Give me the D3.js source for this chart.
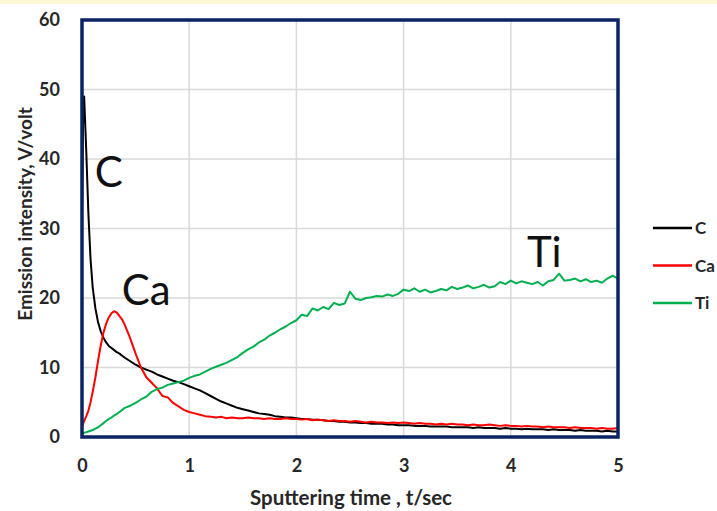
<!DOCTYPE html>
<html>
<head>
<meta charset="utf-8">
<script src="https://cdn.jsdelivr.net/npm/d3@7"></script>
<style>
  body { margin: 0; background: #fff; }
  svg { display: block; font-family: Lato, "Open Sans", sans-serif; }
</style>
</head>
<body>
<div id="chart"></div>
<script>
// Sampling times (sec)
var times = [0, 0.01, 0.02, 0.04, 0.06, 0.08, 0.1, 0.125, 0.15, 0.175, 0.2, 0.225, 0.25, 0.275, 0.3, 0.325, 0.35, 0.375, 0.4,
  0.45, 0.5, 0.55, 0.6, 0.65, 0.7, 0.75, 0.8, 0.85, 0.9, 0.95, 1.0,
  1.05, 1.1, 1.15, 1.2, 1.25, 1.3, 1.35, 1.4, 1.45, 1.5,
  1.55, 1.6, 1.65, 1.7, 1.75, 1.8, 1.85, 1.9, 1.95, 2.0,
  2.05, 2.1, 2.15, 2.2, 2.25, 2.3, 2.35, 2.4, 2.45, 2.5,
  2.55, 2.6, 2.65, 2.7, 2.75, 2.8, 2.85, 2.9, 2.95, 3.0,
  3.05, 3.1, 3.15, 3.2, 3.25, 3.3, 3.35, 3.4, 3.45, 3.5,
  3.55, 3.6, 3.65, 3.7, 3.75, 3.8, 3.85, 3.9, 3.95, 4.0,
  4.05, 4.1, 4.15, 4.2, 4.25, 4.3, 4.35, 4.4, 4.45, 4.5,
  4.55, 4.6, 4.65, 4.7, 4.75, 4.8, 4.85, 4.9, 4.95, 5.0];

var cValues = [32, 45, 49, 41, 32, 25.5, 21.5, 18.5, 16.5, 15.2, 14.3, 13.6, 13.1, 12.8, 12.5, 12.2, 12.0, 11.7, 11.4,
  10.9, 10.4, 10.0, 9.7, 9.4, 9.0, 8.7, 8.4, 8.1, 7.9, 7.6, 7.3,
  7.0, 6.7, 6.3, 5.9, 5.5, 5.1, 4.8, 4.5, 4.2, 4.0,
  3.8, 3.6, 3.4, 3.3, 3.2, 3.0, 2.9, 2.8, 2.8, 2.7,
  2.6, 2.6, 2.5, 2.5, 2.4, 2.3, 2.3, 2.2, 2.2, 2.1,
  2.1, 2.0, 2.0, 1.9, 1.9, 1.9, 1.8, 1.8, 1.7, 1.7,
  1.7, 1.6, 1.6, 1.6, 1.5, 1.5, 1.5, 1.5, 1.4, 1.4,
  1.4, 1.4, 1.3, 1.4, 1.3, 1.3, 1.3, 1.2, 1.3, 1.2,
  1.2, 1.1, 1.2, 1.1, 1.1, 1.1, 1.0, 1.1, 1.0, 1.0,
  1.0, 0.9, 1.0, 0.9, 0.9, 0.9, 0.8, 0.9, 0.8, 0.8];

var caValues = [1.5, 1.9, 2.3, 3.0, 3.8, 5.0, 6.5, 8.6, 11.0, 13.2, 15.0, 16.3, 17.2, 17.8, 18.1, 17.9, 17.4, 16.9, 16.1,
  14.2, 12.0, 10.0, 8.6, 7.8, 7.0, 5.9, 5.7, 4.9, 4.4, 3.9, 3.6,
  3.4, 3.2, 3.0, 2.9, 2.8, 2.9, 2.7, 2.8, 2.7, 2.7,
  2.8, 2.7, 2.7, 2.6, 2.7, 2.6, 2.6, 2.7, 2.6, 2.6,
  2.5, 2.6, 2.4, 2.5, 2.4, 2.3, 2.4, 2.3, 2.3, 2.2,
  2.3, 2.2, 2.1, 2.2, 2.1, 2.1, 2.0, 2.1, 2.0, 2.1,
  2.0, 1.9, 2.0, 1.9, 1.9, 1.8, 1.9, 1.8, 1.9, 1.8,
  1.8, 1.7, 1.8, 1.7, 1.7, 1.8, 1.7, 1.6, 1.7, 1.6,
  1.6, 1.5, 1.6, 1.5, 1.5, 1.4, 1.5, 1.4, 1.4, 1.4,
  1.3, 1.4, 1.3, 1.3, 1.3, 1.2, 1.3, 1.2, 1.2, 1.3];

var tiValues = [0.5, 0.5, 0.6, 0.7, 0.8, 0.9, 1.0, 1.2, 1.4, 1.7, 2.0, 2.3, 2.6, 2.8, 3.1, 3.3, 3.6, 3.9, 4.2,
  4.5, 4.9, 5.4, 5.8, 6.5, 6.9, 7.1, 7.5, 7.7, 7.9, 8.1, 8.5,
  8.8, 9.0, 9.4, 9.8, 10.1, 10.4, 10.7, 11.1, 11.5, 12.1,
  12.6, 13.0, 13.6, 14.0, 14.6, 15.0, 15.5, 15.9, 16.4, 16.8,
  17.6, 17.4, 18.5, 18.2, 18.7, 18.4, 19.3, 19.0, 19.2, 20.9,
  19.9, 19.7, 20.0, 20.1, 20.3, 20.2, 20.5, 20.3, 20.6, 21.2,
  21.0, 21.4, 20.9, 21.2, 20.8, 21.0, 21.3, 21.1, 21.6, 21.3,
  21.5, 21.8, 21.4, 21.6, 21.9, 21.5, 21.7, 22.3, 22.0, 22.5,
  22.1, 22.4, 22.2, 22.0, 22.3, 21.8, 22.4, 22.6, 23.5, 22.5,
  22.6, 22.8, 22.4, 22.7, 22.3, 22.5, 22.2, 22.8, 23.2, 22.8];

var seriesNames = ["C", "Ca", "Ti"];
var seriesColors = ["#000000", "#ff0000", "#00b050"];
var seriesValues = [cValues, caValues, tiValues];

var xTicks = [0, 1, 2, 3, 4, 5];
var yTicks = [0, 10, 20, 30, 40, 50, 60];

// Labels written inside the plot, next to each curve
var notes = [
  { text: "C", t: 0.12, v: 36 },
  { text: "Ca", t: 0.37, v: 19 },
  { text: "Ti", t: 4.15, v: 24.5 }
];

var W = 717, H = 511;
var plot = { left: 82, right: 618, top: 20, bottom: 437 };

var svg = d3.select("#chart").append("svg")
  .attr("width", W)
  .attr("height", H);

// Thin cream strip at the top of the image
svg.append("rect")
  .attr("x", 0).attr("y", 0)
  .attr("width", W).attr("height", 4)
  .attr("fill", "#fff8d5");

var x = d3.scaleLinear().domain([0, 5]).range([plot.left, plot.right]);
var y = d3.scaleLinear().domain([0, 60]).range([plot.bottom, plot.top]);

// Gridlines
svg.append("g")
  .selectAll("line.v")
  .data(xTicks.slice(1, -1))
  .enter().append("line")
    .attr("x1", function(d) { return x(d); })
    .attr("x2", function(d) { return x(d); })
    .attr("y1", plot.top)
    .attr("y2", plot.bottom)
    .attr("stroke", "#d9d9d9")
    .attr("stroke-width", 1.5);

svg.append("g")
  .selectAll("line.h")
  .data(yTicks.slice(1, -1))
  .enter().append("line")
    .attr("x1", plot.left)
    .attr("x2", plot.right)
    .attr("y1", function(d) { return y(d); })
    .attr("y2", function(d) { return y(d); })
    .attr("stroke", "#d9d9d9")
    .attr("stroke-width", 1.5);

// Axes (labels only)
var yAxis = svg.append("g")
  .attr("transform", `translate(${plot.left}, 0)`)
  .call(d3.axisLeft(y).tickValues(yTicks).tickSize(0).tickPadding(22).tickFormat(d3.format("d")));
var xAxis = svg.append("g")
  .attr("transform", `translate(0, ${plot.bottom})`)
  .call(d3.axisBottom(x).tickValues(xTicks).tickSize(0).tickPadding(22).tickFormat(d3.format("d")));

[xAxis, yAxis].forEach(function(g) {
  g.select(".domain").remove();
  g.selectAll("text")
    .style("font-family", "Lato, sans-serif")
    .style("font-size", "18px")
    .style("font-weight", "bold")
    .attr("fill", "#262626");
});

// Curves
var line = d3.line()
  .x(function(d) { return x(d[0]); })
  .y(function(d) { return y(d[1]); });

seriesValues.forEach(function(vals, i) {
  svg.append("path")
    .datum(times.map(function(t, k) { return [t, vals[k]]; }))
    .attr("d", line)
    .attr("fill", "none")
    .attr("stroke", seriesColors[i])
    .attr("stroke-width", 2)
    .attr("stroke-linejoin", "round");
});

// Plot frame
svg.append("rect")
  .attr("x", plot.left)
  .attr("y", plot.top)
  .attr("width", plot.right - plot.left)
  .attr("height", plot.bottom - plot.top)
  .attr("fill", "none")
  .attr("stroke", "#0a2463")
  .attr("stroke-width", 3.5);

// In-plot notes
svg.selectAll("text.note")
  .data(notes)
  .enter().append("text")
    .attr("class", "note")
    .attr("x", function(d) { return x(d.t); })
    .attr("y", function(d) { return y(d.v); })
    .attr("font-size", 42)
    .attr("fill", "#111")
    .text(function(d) { return d.text; });

// Axis titles
svg.append("text")
  .attr("x", 351)
  .attr("y", 505)
  .attr("text-anchor", "middle")
  .attr("font-size", 20.5)
  .attr("font-weight", "bold")
  .attr("fill", "#262626")
  .text("Sputtering time , t/sec");

svg.append("text")
  .attr("transform", "translate(32, 214) rotate(-90)")
  .attr("text-anchor", "middle")
  .attr("font-size", 19)
  .attr("font-weight", "bold")
  .attr("fill", "#262626")
  .text("Emission intensity, V/volt");

// Legend
var legend = svg.append("g").attr("transform", "translate(653, 228)");
seriesNames.forEach(function(name, i) {
  var g = legend.append("g").attr("transform", `translate(0, ${i * 37.5})`);
  g.append("line")
    .attr("x1", 0).attr("x2", 39)
    .attr("y1", 0).attr("y2", 0)
    .attr("stroke", seriesColors[i])
    .attr("stroke-width", 2.5);
  g.append("text")
    .attr("x", 42)
    .attr("y", 6)
    .attr("font-size", 17)
    .attr("font-weight", "bold")
    .attr("fill", "#262626")
    .text(name);
});
</script>
</body>
</html>
